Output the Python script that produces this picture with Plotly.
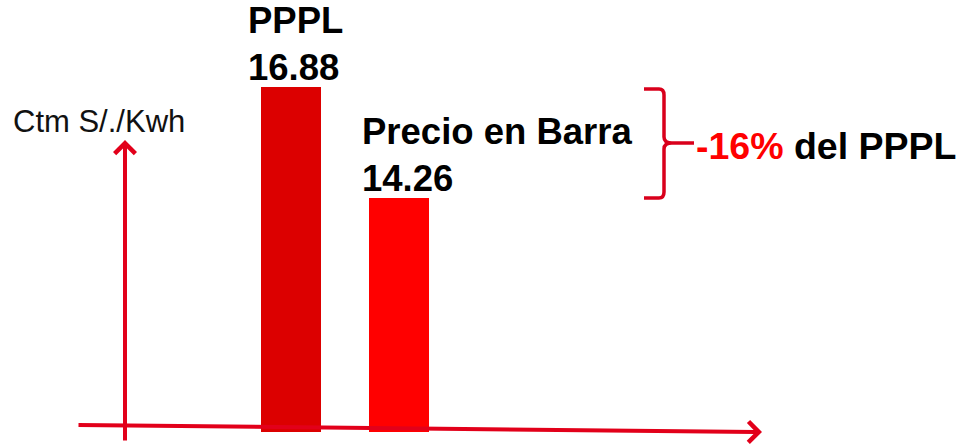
import plotly.graph_objects as go

# ---- data ----
categories = ["PPPL", "Precio en Barra"]
values = [16.88, 14.26]
value_labels = ["16.88", "14.26"]
bar_colors = ["#DC0000", "#FF0000"]
y_axis_title = "Ctm S/./Kwh"
diff_pct = "-16%"
diff_text = " del PPPL"

W, H = 957, 445
MB = 13                 # bottom margin in px
PH = H - MB             # plot-area height (paper coords span this)
FONT = "Liberation Sans, Arial, sans-serif"
AXIS_RED = "#E2001A"
label_xshifts = [-45, -39]

def px(x):
    return x / W

def py(y):
    return (PH - y) / PH

x_pos = list(range(len(categories)))

fig = go.Figure()
fig.add_trace(go.Bar(
    x=x_pos, y=values, width=0.556,
    marker=dict(color=bar_colors, line=dict(width=0)),
    hoverinfo="skip", showlegend=False,
))

# bar labels (category + value), anchored to the bar tops
for xi, cat, v, lab, xs in zip(x_pos, categories, values, value_labels, label_xshifts):
    fig.add_annotation(
        x=xi, y=v, xref="x", yref="y",
        text=f"<b>{cat}<br>{lab}</b>", showarrow=False,
        xanchor="left", yanchor="bottom", align="left",
        xshift=xs, yshift=-3,
        font=dict(family=FONT, size=36.5, color="#000000"),
    )

# axis title
fig.add_annotation(
    x=px(11), y=py(102), xref="paper", yref="paper",
    text=y_axis_title, showarrow=False, xanchor="left", yanchor="top",
    font=dict(family=FONT, size=31, color="#111111"),
)

# difference label
fig.add_annotation(
    x=px(694), y=py(123), xref="paper", yref="paper",
    text=f"<b><span style='color:#FF0000'>{diff_pct}</span>{diff_text}</b>",
    showarrow=False, xanchor="left", yanchor="top",
    font=dict(family=FONT, size=37.5, color="#000000"),
)

# vertical axis arrow
fig.add_annotation(
    x=px(125), y=py(140), xref="paper", yref="paper",
    ax=0, ay=302, text="", showarrow=True,
    arrowhead=4, arrowsize=1, arrowwidth=4, arrowcolor=AXIS_RED,
)
# horizontal axis arrow
fig.add_annotation(
    x=px(762), y=py(432), xref="paper", yref="paper",
    ax=-685, ay=-7, text="", showarrow=True,
    arrowhead=4, arrowsize=1, arrowwidth=4, arrowcolor=AXIS_RED,
)

# brace
pts = [
    f"M {px(644)},{py(89)}",
    f"L {px(659)},{py(89)}",
    f"Q {px(664)},{py(89)} {px(664)},{py(95)}",
    f"L {px(664)},{py(137)}",
    f"Q {px(664)},{py(143)} {px(672)},{py(143)}",
    f"L {px(694)},{py(143)}",
    f"M {px(672)},{py(143)}",
    f"Q {px(664)},{py(143)} {px(664)},{py(149)}",
    f"L {px(664)},{py(192)}",
    f"Q {px(664)},{py(198)} {px(659)},{py(198)}",
    f"L {px(644)},{py(198)}",
]
fig.add_shape(type="path", path=" ".join(pts), xref="paper", yref="paper",
              line=dict(color="#D9001B", width=3.5))

fig.update_layout(
    width=W, height=H,
    margin=dict(l=0, r=0, t=0, b=MB),
    paper_bgcolor="white", plot_bgcolor="white",
    xaxis=dict(range=[-291 / 108, -291 / 108 + W / 108], visible=False, fixedrange=True),
    yaxis=dict(range=[8.73, 18.93], visible=False, fixedrange=True),
    bargap=0,
)

fig.write_html("out.html", config={"displayModeBar": False},
               post_script="document.body.style.margin='0';")
